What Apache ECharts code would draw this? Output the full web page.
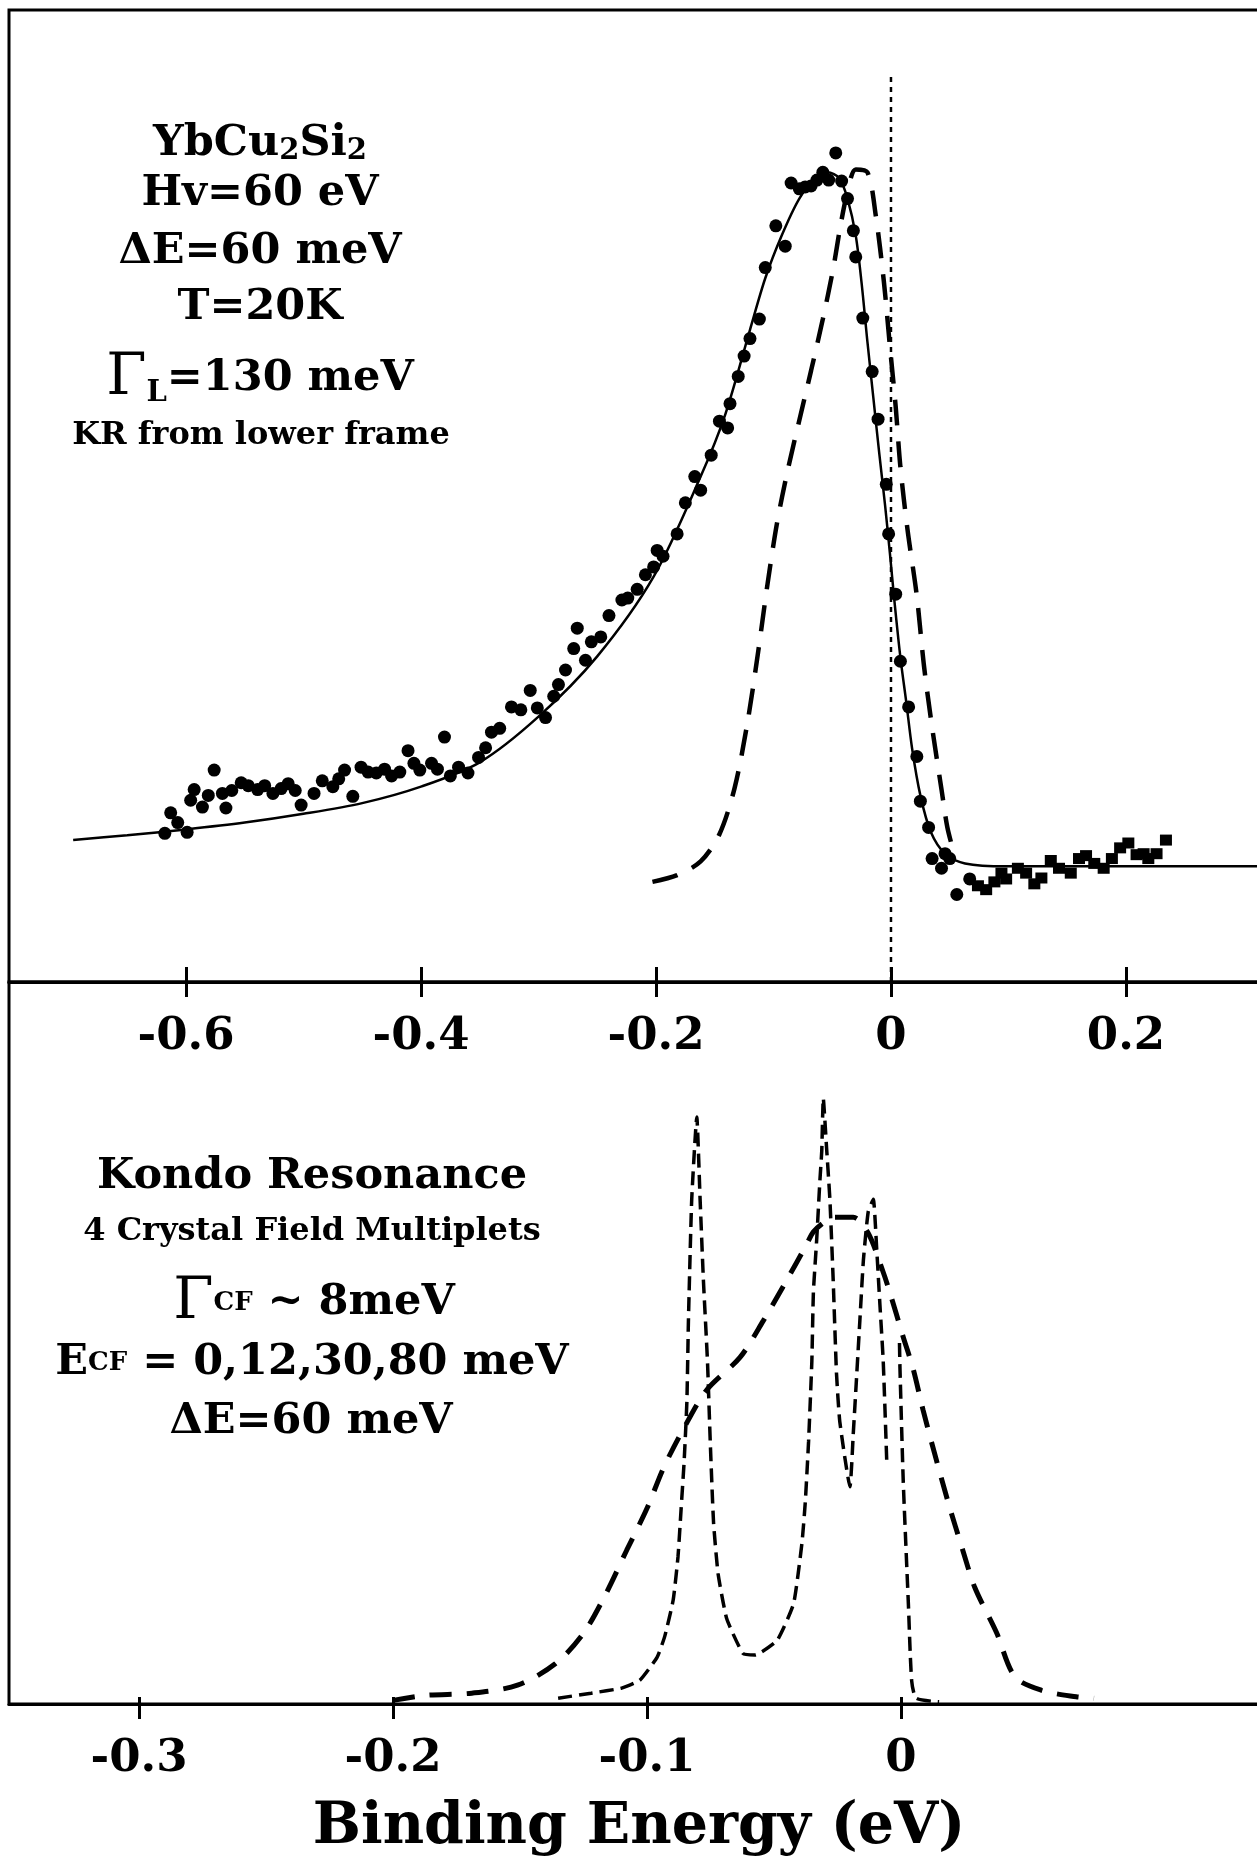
<!DOCTYPE html>
<html>
<head>
<meta charset="utf-8">
<script src="https://cdn.jsdelivr.net/npm/echarts@6/dist/echarts.min.js"></script>
<style>
html, body { margin: 0; padding: 0; background: #fff; }
#chart { width: 1257px; height: 1856px; }
</style>
</head>
<body>
<div id="chart"></div>
<script>
var chart = echarts.init(document.getElementById('chart'));

// tick values (eV)
var topTicks = [-0.6, -0.4, -0.2, 0, 0.2];
var bottomTicks = [-0.3, -0.2, -0.1, 0];

// upper frame: fit (solid), KR broadened (dashed), data points
var fitCurve = [[-0.696,14.6],[-0.650,15.1],[-0.600,15.7],[-0.550,16.4],[-0.500,17.3],[-0.450,18.4],[-0.400,20.1],[-0.350,22.6],[-0.300,27.3],[-0.250,33.5],[-0.202,41.7],[-0.162,52.0],[-0.141,58.4],[-0.120,67.1],[-0.107,72.4],[-0.093,76.8],[-0.078,80.6],[-0.064,82.7],[-0.054,83.3],[-0.044,82.7],[-0.037,80.6],[-0.030,76.8],[-0.025,71.9],[-0.020,65.8],[-0.015,60.1],[-0.010,54.4],[-0.005,49.0],[-0.001,44.2],[0.003,39.1],[0.008,33.4],[0.013,28.8],[0.018,24.0],[0.025,19.2],[0.034,15.4],[0.046,13.2],[0.063,12.2],[0.098,11.9],[0.320,11.9]];

var krTop = [[-0.203,10.3],[-0.182,11.0],[-0.162,12.4],[-0.146,15.2],[-0.133,20.0],[-0.122,26.8],[-0.113,34.0],[-0.105,41.0],[-0.097,47.2],[-0.088,52.6],[-0.078,57.8],[-0.068,62.9],[-0.058,68.2],[-0.049,73.5],[-0.043,77.8],[-0.037,81.3],[-0.030,83.6],[-0.020,83.3],[-0.013,78.9],[-0.006,72.0],[-0.001,65.5],[0.004,59.2],[0.008,53.0],[0.014,46.6],[0.022,39.7],[0.028,32.6],[0.035,26.2],[0.043,19.8],[0.048,15.9],[0.054,13.1]];

var dots = [[-0.618,15.3],[-0.613,17.4],[-0.607,16.4],[-0.599,15.4],[-0.596,18.7],[-0.593,19.8],[-0.586,18.0],[-0.581,19.2],[-0.576,21.8],[-0.569,19.4],[-0.566,17.9],[-0.561,19.7],[-0.553,20.5],[-0.547,20.2],[-0.539,19.8],[-0.533,20.2],[-0.526,19.4],[-0.519,19.9],[-0.513,20.4],[-0.507,19.7],[-0.502,18.2],[-0.491,19.4],[-0.484,20.7],[-0.475,20.1],[-0.470,20.9],[-0.465,21.8],[-0.458,19.1],[-0.451,22.1],[-0.445,21.6],[-0.438,21.5],[-0.431,21.9],[-0.425,21.2],[-0.418,21.6],[-0.411,23.8],[-0.406,22.5],[-0.401,21.8],[-0.391,22.5],[-0.386,21.9],[-0.380,25.2],[-0.375,21.2],[-0.368,22.1],[-0.360,21.5],[-0.351,23.1],[-0.345,24.1],[-0.340,25.7],[-0.333,26.1],[-0.323,28.3],[-0.315,28.0],[-0.307,30.0],[-0.301,28.2],[-0.294,27.2],[-0.287,29.4],[-0.283,30.6],[-0.277,32.1],[-0.270,34.3],[-0.267,36.4],[-0.260,33.1],[-0.255,35.0],[-0.247,35.5],[-0.240,37.7],[-0.229,39.3],[-0.224,39.5],[-0.216,40.4],[-0.209,41.9],[-0.202,42.7],[-0.199,44.4],[-0.194,43.8],[-0.182,46.1],[-0.175,49.3],[-0.167,52.0],[-0.162,50.6],[-0.153,54.2],[-0.146,57.7],[-0.139,57.0],[-0.137,59.5],[-0.130,62.3],[-0.125,64.4],[-0.120,66.2],[-0.112,68.2],[-0.107,73.5],[-0.098,77.8],[-0.090,75.7],[-0.085,82.2],[-0.078,81.6],[-0.073,81.8],[-0.068,81.9],[-0.063,82.5],[-0.058,83.3],[-0.053,82.5],[-0.047,85.3],[-0.042,82.4],[-0.037,80.6],[-0.032,77.3],[-0.030,74.6],[-0.024,68.3],[-0.016,62.8],[-0.011,57.9],[-0.004,51.2],[-0.002,46.1],[0.004,39.9],[0.008,33.0],[0.015,28.3],[0.022,23.2],[0.025,18.6],[0.032,15.9],[0.035,12.7],[0.043,11.7],[0.046,13.2],[0.050,12.7],[0.056,9.0],[0.067,10.6]];

var squares = [[0.074,9.9],[0.081,9.5],[0.088,10.3],[0.094,11.2],[0.098,10.6],[0.108,11.7],[0.115,11.2],[0.122,10.1],[0.128,10.7],[0.136,12.5],[0.143,11.7],[0.153,11.2],[0.160,12.7],[0.166,13.0],[0.173,12.2],[0.181,11.7],[0.188,12.7],[0.195,13.8],[0.202,14.3],[0.209,13.1],[0.215,13.2],[0.219,12.7],[0.226,13.2],[0.234,14.6]];

var fermiLine = [[0, 0], [0, 93.1]];

// lower frame: Kondo resonance with crystal field multiplets
var broadKR = [[-0.200,0.5],[-0.187,1.2],[-0.169,1.5],[-0.151,2.6],[-0.136,5.6],[-0.125,9.8],[-0.116,15.4],[-0.108,21.3],[-0.100,27.1],[-0.0935,32.7],[-0.0858,38.0],[-0.0765,43.5],[-0.0634,48.0],[-0.0542,53.1],[-0.0450,58.7],[-0.0371,63.7],[-0.0345,65.4],[-0.0300,66.8],[-0.0267,67.4],[-0.0188,67.4],[-0.0129,65.2],[-0.0070,59.8],[-0.0044,57.0],[0.0009,50.8],[0.0048,46.4],[0.0087,40.7],[0.0133,34.6],[0.0186,27.9],[0.0245,21.1],[0.0291,16.1],[0.0376,9.9],[0.0448,3.8],[0.0553,1.9],[0.0690,1.0],[0.0760,0.8]];

var cfPeaks = [[-0.135,0.8],[-0.122,1.5],[-0.110,2.2],[-0.1028,3.3],[-0.0960,6.5],[-0.0930,9.4],[-0.0897,14.4],[-0.0878,20.4],[-0.0866,26.9],[-0.0854,33.5],[-0.0843,41.9],[-0.0837,53.0],[-0.0824,69.9],[-0.0804,81.3],[-0.0791,69.9],[-0.0778,58.7],[-0.0762,47.5],[-0.0751,36.3],[-0.0738,25.1],[-0.0720,18.0],[-0.0686,11.8],[-0.0622,7.0],[-0.0575,6.8],[-0.0488,8.8],[-0.0423,13.9],[-0.0390,22.3],[-0.0377,27.9],[-0.0364,36.3],[-0.0351,47.5],[-0.0345,57.0],[-0.0332,64.3],[-0.0319,72.7],[-0.0312,76.6],[-0.0306,83.9],[-0.0293,77.0],[-0.0280,69.9],[-0.0267,58.7],[-0.0254,45.8],[-0.0241,39.1],[-0.0201,30.1],[-0.0188,37.4],[-0.0175,45.2],[-0.0162,53.1],[-0.0148,61.5],[-0.0129,68.2],[-0.0109,69.9],[-0.0096,63.2],[-0.0083,55.3],[-0.0070,47.5],[-0.0056,33.5]];

var fermiEdge = [[-0.0006,50.0],[-0.0004,46.4],[0.0009,30.7],[0.0029,13.9],[0.0042,3.2],[0.0060,0.8],[0.0150,0.3]];

var serif = "'DejaVu Serif', serif";

function xAxisPair(grid, min, max, ticks) {
    return [{
        gridIndex: grid, type: 'value', min: min, max: max, position: 'bottom',
        axisLine: { show: true, onZero: false, lineStyle: { color: '#000', width: 3 } },
        axisTick: { show: true, inside: false, length: 15, customValues: ticks, lineStyle: { color: '#000', width: 3 } },
        axisLabel: { customValues: ticks, margin: 33, color: '#000', fontFamily: serif, fontWeight: 'bold', fontSize: 45 },
        splitLine: { show: false }
    }, {
        gridIndex: grid, type: 'value', min: min, max: max, position: 'bottom',
        axisLine: { show: false },
        axisTick: { show: true, inside: true, length: grid === 0 ? 15 : 7, customValues: ticks, lineStyle: { color: '#000', width: 3 } },
        axisLabel: { show: false },
        splitLine: { show: false }
    }];
}

function txt(x, y, text, rich) {
    return {
        type: 'text', x: x, y: y, z: 10,
        style: { text: text, fill: '#000', align: 'center', verticalAlign: 'middle', rich: rich }
    };
}

var rich = {
    b: { fontFamily: serif, fontWeight: 'bold', fontSize: 43 },
    m: { fontFamily: serif, fontWeight: 'bold', fontSize: 32 },
    s: { fontFamily: serif, fontWeight: 'bold', fontSize: 29, verticalAlign: 'bottom' },
    c: { fontFamily: serif, fontWeight: 'bold', fontSize: 26 },
    g: { fontFamily: serif, fontWeight: 'normal', fontSize: 58 }
};

var option = {
    backgroundColor: '#fff',
    animation: false,
    grid: [
        { left: 9, top: 10, width: 1258, height: 972, show: true, borderColor: '#000', borderWidth: 3,
          containLabel: false, outerBoundsMode: 'none' },
        { left: 9, top: 982, width: 1258, height: 722, show: true, borderColor: '#000', borderWidth: 3,
          containLabel: false, outerBoundsMode: 'none' }
    ],
    xAxis: xAxisPair(0, -0.7506, 0.3200, topTicks).concat(xAxisPair(1, -0.3512, 0.1441, bottomTicks)),
    yAxis: [
        { gridIndex: 0, type: 'value', min: 0, max: 100, show: false },
        { gridIndex: 1, type: 'value', min: 0, max: 100, show: false }
    ],
    series: [
        { type: 'line', xAxisIndex: 0, yAxisIndex: 0, data: fitCurve, showSymbol: false, smooth: 0.3,
          lineStyle: { color: '#000', width: 2.5 } },
        { type: 'line', xAxisIndex: 0, yAxisIndex: 0, data: krTop, showSymbol: false, smooth: 0.3,
          lineStyle: { color: '#000', width: 4.5, type: [26, 16] } },
        { type: 'scatter', xAxisIndex: 0, yAxisIndex: 0, data: dots, symbol: 'circle', symbolSize: 13,
          itemStyle: { color: '#000', opacity: 1 } },
        { type: 'scatter', xAxisIndex: 0, yAxisIndex: 0, data: squares, symbol: 'rect', symbolSize: [12, 11],
          itemStyle: { color: '#000', opacity: 1 } },
        { type: 'line', xAxisIndex: 0, yAxisIndex: 0, data: fermiLine, showSymbol: false,
          lineStyle: { color: '#000', width: 2.5, type: [5, 5] } },
        { type: 'line', xAxisIndex: 2, yAxisIndex: 1, data: broadKR, showSymbol: false, smooth: 0.3,
          lineStyle: { color: '#000', width: 5, type: [22, 15] } },
        { type: 'line', xAxisIndex: 2, yAxisIndex: 1, data: cfPeaks, showSymbol: false, smooth: 0.15,
          lineStyle: { color: '#000', width: 3.5, type: [14, 7] } },
        { type: 'line', xAxisIndex: 2, yAxisIndex: 1, data: fermiEdge, showSymbol: false, smooth: 0.2,
          lineStyle: { color: '#000', width: 3.5, type: [14, 7] } }
    ],
    graphic: { elements: [
        txt(260, 144, '{b|YbCu}{s|2}{b|Si}{s|2}', rich),
        txt(260, 194, '{b|Hv=60 eV}', rich),
        txt(260, 252, '{b|\u0394E=60 meV}', rich),
        txt(260, 308, '{b|T=20K}', rich),
        txt(260, 379, '{g|\u0393}{s|L}{b|=130 meV}', rich),
        txt(261, 436, '{m|KR from lower frame}', rich),
        txt(312, 1177, '{b|Kondo Resonance}', rich),
        txt(312, 1232, '{m|4 Crystal Field Multiplets}', rich),
        txt(314, 1303, '{g|\u0393}{c|CF}{b| ~ 8meV}', rich),
        txt(312, 1363, '{b|E}{c|CF}{b| = 0,12,30,80 meV}', rich),
        txt(311, 1422, '{b|\u0394E=60 meV}', rich),
        {
            type: 'text', x: 639, y: 1828, z: 10,
            style: { text: 'Binding Energy (eV)', fill: '#000', align: 'center', verticalAlign: 'middle',
                     font: "bold 57px 'DejaVu Serif', serif" }
        }
    ] }
};
chart.setOption(option);
</script>
</body>
</html>
